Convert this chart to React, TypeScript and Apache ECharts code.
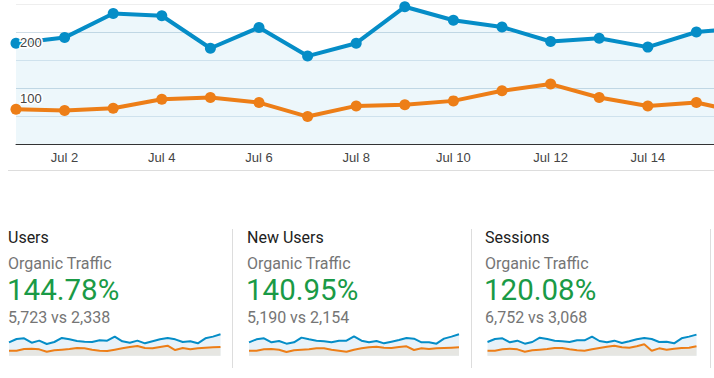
import React, { useEffect, useRef } from "react";
import * as echarts from "echarts";

const days = ["Jul 1", "Jul 2", "Jul 3", "Jul 4", "Jul 5", "Jul 6", "Jul 7", "Jul 8", "Jul 9", "Jul 10", "Jul 11", "Jul 12", "Jul 13", "Jul 14", "Jul 15", "Jul 16"];
const currentUsers = [180, 190, 233, 229, 171, 208, 157, 180, 245, 221, 209, 183, 189, 173, 200, 207];
const previousUsers = [62, 60, 64, 80, 83, 74, 49, 68, 70, 77, 95, 107, 83, 68, 74, 55];
const yLabelValues = [100, 200];

const cardTitles = ["Users", "New Users", "Sessions"];
const cardSegments = ["Organic Traffic", "Organic Traffic", "Organic Traffic"];
const cardChanges = ["144.78%", "140.95%", "120.08%"];
const cardCompares = ["5,723 vs 2,338", "5,190 vs 2,154", "6,752 vs 3,068"];

const sparkCurrent1 = [40, 50, 52, 39, 45, 35, 41, 53, 49, 44, 42, 41, 46, 45, 57, 43, 39, 45, 37, 43, 49, 53, 49, 41, 43, 37, 52, 57, 64];
const sparkPrevious1 = [15, 15, 20, 21, 19, 12, 16, 18, 20, 23, 22, 18, 15, 14, 18, 22, 26, 29, 23, 22, 26, 30, 17, 23, 19, 22, 24, 25, 26];
const sparkCurrent2 = [40, 49, 52, 40, 44, 36, 40, 54, 49, 45, 43, 40, 45, 45, 58, 45, 40, 44, 37, 42, 47, 53, 51, 40, 40, 36, 51, 57, 64];
const sparkPrevious2 = [15, 15, 19, 20, 18, 11, 16, 18, 19, 22, 22, 18, 15, 12, 18, 22, 25, 27, 24, 23, 26, 28, 17, 22, 20, 22, 23, 24, 25];
const sparkCurrent3 = [41, 50, 52, 40, 45, 36, 41, 54, 50, 45, 43, 41, 46, 46, 57, 44, 40, 45, 38, 43, 49, 53, 50, 41, 42, 37, 52, 57, 63];
const sparkPrevious3 = [15, 15, 19, 21, 19, 12, 16, 18, 20, 23, 23, 19, 16, 15, 19, 23, 27, 30, 25, 24, 28, 34, 15, 22, 18, 21, 23, 24, 28];

const sparkCurrent = [sparkCurrent1, sparkCurrent2, sparkCurrent3];
const sparkPrevious = [sparkPrevious1, sparkPrevious2, sparkPrevious3];

const BLUE = "#058dc7";
const ORANGE = "#ed7e17";
const AREA = "rgba(5,141,199,0.1)";

export default function App() {
  const ref = useRef<HTMLDivElement>(null);

  useEffect(() => {
    if (!ref.current) return;
    const chart = echarts.init(ref.current, null, { renderer: "svg" });

    const cardX = [8, 247, 485];
    const sparkGrids = [
      { left: 9, width: 211.5 },
      { left: 249, width: 210 },
      { left: 487.5, width: 209 },
    ];
    const dividerX = [232, 471, 710];

    const grids: any[] = [{ left: 16, top: 4, width: 729, height: 140 }];
    sparkGrids.forEach((g) => grids.push({ left: g.left, width: g.width, top: 333.3, height: 22.4 }));

    const xAxes: any[] = [
      {
        type: "category",
        gridIndex: 0,
        data: days,
        boundaryGap: false,
        axisLine: { lineStyle: { color: "#333", width: 1 } },
        axisTick: { show: false },
        axisLabel: {
          interval: (i: number) => i % 2 === 1 && i < days.length - 1,
          color: "#444",
          fontSize: 13,
          fontFamily: "Arial, 'Liberation Sans', sans-serif",
          margin: 7,
        },
        splitLine: { show: false },
      },
    ];
    const yAxes: any[] = [
      {
        type: "value",
        gridIndex: 0,
        min: 0,
        max: 250,
        interval: 50,
        axisLine: { show: false },
        axisTick: { show: false },
        axisLabel: { show: false },
        splitLine: {
          lineStyle: { color: ["rgba(0,0,0,0)", "#dfe9f0", "#cfdde7", "#dfe9f0", "#cfdde7", "#eeeeee"], width: 1 },
        },
      },
      {
        type: "value",
        gridIndex: 0,
        position: "left",
        min: 0,
        max: 250,
        interval: 50,
        z: 10,
        axisLine: { show: false },
        axisTick: { show: false },
        splitLine: { show: false },
        axisLabel: {
          inside: true,
          margin: 4,
          verticalAlign: "top",
          padding: [4, 0, 0, 0],
          color: "#444",
          fontSize: 13,
          fontFamily: "Arial, 'Liberation Sans', sans-serif",
          textBorderColor: "#fff",
          textBorderWidth: 3,
          formatter: (v: number) => (yLabelValues.indexOf(v) >= 0 ? String(v) : ""),
        },
      },
    ];

    const series: any[] = [
      {
        type: "line",
        xAxisIndex: 0,
        yAxisIndex: 0,
        data: currentUsers,
        symbol: "circle",
        symbolSize: 11,
        lineStyle: { color: BLUE, width: 4 },
        itemStyle: { color: BLUE },
        areaStyle: { color: AREA },
        z: 3,
      },
      {
        type: "line",
        xAxisIndex: 0,
        yAxisIndex: 0,
        data: previousUsers,
        symbol: "circle",
        symbolSize: 11,
        lineStyle: { color: ORANGE, width: 4 },
        itemStyle: { color: ORANGE },
        z: 3,
      },
    ];

    sparkGrids.forEach((_, k) => {
      const gi = k + 1;
      xAxes.push({
        type: "category",
        gridIndex: gi,
        data: sparkCurrent[k].map((_, i) => String(i)),
        boundaryGap: false,
        show: false,
      });
      yAxes.push({ type: "value", gridIndex: gi, min: 0, max: 67, show: false });
      series.push({
        type: "line",
        xAxisIndex: gi,
        yAxisIndex: gi + 1,
        data: sparkCurrent[k],
        symbol: "none",
        lineStyle: { color: BLUE, width: 2 },
        areaStyle: { color: "#e8f2f9", opacity: 1 },
      });
      series.push({
        type: "line",
        xAxisIndex: gi,
        yAxisIndex: gi + 1,
        data: sparkPrevious[k],
        symbol: "none",
        lineStyle: { color: ORANGE, width: 2 },
        areaStyle: { color: "#e6e6e2", opacity: 1 },
      });
    });

    const font = "Roboto, 'Noto Sans', sans-serif";
    const graphics: any[] = [
      {
        type: "line",
        shape: { x1: 8, y1: 170.5, x2: 714, y2: 170.5 },
        style: { stroke: "#dddddd", lineWidth: 1 },
      },
    ];
    cardX.forEach((x, k) => {
      graphics.push({
        type: "text",
        x,
        y: 237,
        style: { text: cardTitles[k], fill: "#212121", font: `16px ${font}`, textVerticalAlign: "middle" },
      });
      graphics.push({
        type: "text",
        x,
        y: 263.5,
        style: { text: cardSegments[k], fill: "#757575", font: `16px ${font}`, textVerticalAlign: "middle" },
      });
      graphics.push({
        type: "text",
        x: x - 1,
        y: 290,
        style: { text: cardChanges[k], fill: "#1a9a46", font: `29.5px ${font}`, textVerticalAlign: "middle" },
      });
      graphics.push({
        type: "text",
        x,
        y: 317,
        style: { text: cardCompares[k], fill: "#757575", font: `16px ${font}`, textVerticalAlign: "middle" },
      });
      graphics.push({
        type: "line",
        shape: { x1: dividerX[k] + 0.5, y1: 229, x2: dividerX[k] + 0.5, y2: 368 },
        style: { stroke: "#dddddd", lineWidth: 1 },
      });
    });

    chart.setOption({
      animation: false,
      backgroundColor: "#ffffff",
      grid: grids,
      xAxis: xAxes,
      yAxis: yAxes,
      series,
      graphic: graphics,
    });

    return () => chart.dispose();
  }, []);

  return (
    <div style={{ position: "fixed", left: 0, top: 0, width: 714, height: 378, overflow: "hidden", background: "#fff" }}>
      <div ref={ref} style={{ width: 780, height: 378 }} />
    </div>
  );
}
